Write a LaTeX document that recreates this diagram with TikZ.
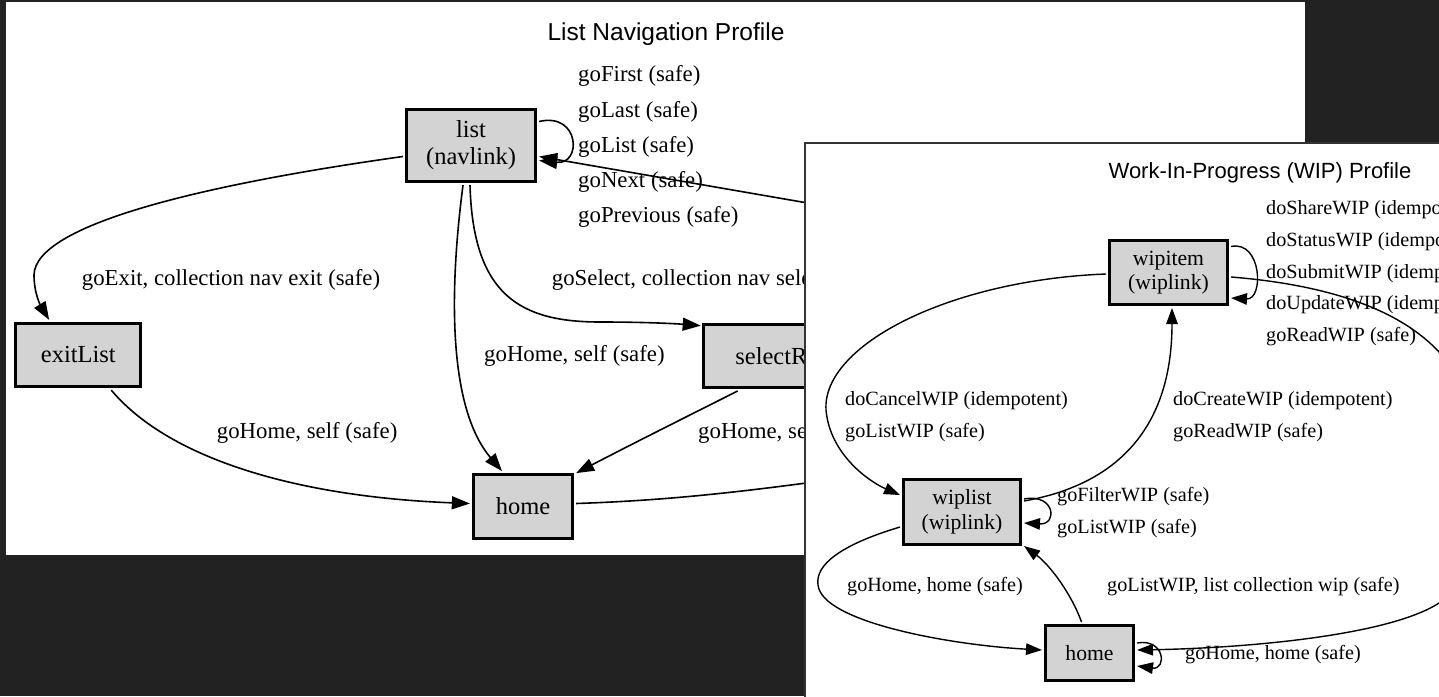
\documentclass[tikz,border=0pt]{standalone}
\usepackage{fontspec}
\setmainfont{Liberation Serif}
\newfontfamily\titlefont{Liberation Sans}
\usetikzlibrary{arrows.meta,calc}
\definecolor{bgdark}{HTML}{222222}
\definecolor{boxgray}{HTML}{D3D3D3}
\tikzset{
  lbox/.style={draw=black, fill=boxgray, line width=3.3pt, inner sep=0pt, font=\fontsize{24.5pt}{27pt}\selectfont, align=center},
  rbox/.style={draw=black, fill=boxgray, line width=3pt, inner sep=0pt, font=\fontsize{21.7pt}{24.5pt}\selectfont, align=center},
  ledge/.style={draw=black, line width=1.6pt, -{Triangle[length=18pt,width=13pt]}},
  redge/.style={draw=black, line width=1.4pt, -{Triangle[length=16pt,width=11.5pt]}},
  llabel/.style={anchor=west, inner sep=0pt, font=\fontsize{22.8pt}{26pt}\selectfont},
  rlabel/.style={anchor=west, inner sep=0pt, font=\fontsize{20.2pt}{23pt}\selectfont},
  ltitle/.style={inner sep=0pt, font=\titlefont\fontsize{24.5pt}{28pt}\selectfont},
  rtitle/.style={inner sep=0pt, font=\titlefont\fontsize{22pt}{26pt}\selectfont},
}
\begin{document}
\begin{tikzpicture}[x=1pt,y=-1pt]
\useasboundingbox (0,0) rectangle (1439,696);
\fill[bgdark] (0,0) rectangle (1439,696);
% ---------------- left panel ----------------
\fill[white] (5.5,1.5) rectangle (1305,555);
\begin{scope}
\clip (5.5,1.5) rectangle (1305,555);
\node[ltitle] (ltitle) at (666,34) {List Navigation Profile};
\node[lbox, minimum width=129pt, minimum height=72pt] (list) at (471,145.5) {list\\(navlink)};
\node[lbox, minimum width=125pt, minimum height=63pt] (exitList) at (78.3,355) {exitList};
\node[lbox, minimum width=150pt, minimum height=63pt, anchor=west, inner xsep=32pt, text width=86pt, align=left] (selectR) at (701.7,355.8) {selectR};
\node[lbox, minimum width=99pt, minimum height=63.5pt] (lhome) at (523,506.5) {home};
\coordinate (h1) at (900,470);
\coordinate (h2) at (900,219);
% self loop on list
\draw[ledge] ($(list.east)+(2,-24)$) .. controls (580,112) and (582,165) .. ($(list.east)+(2,15)$);
% home -> list (around the right)
\draw[ledge] ($(lhome.east)+(2,-3)$) .. controls (680,500) and (760,490) .. (h1)
  .. controls (1000,440) and (1000,240) .. (h2) -- ($(list.east)+(2,11)$);
% list -> selectR
\draw[ledge] ($(list.south)+(-1,2)$) .. controls (473,295) and (520,322) .. (600,322)
  .. controls (650,322) and (680,324) .. ($(selectR.north west)+(-1,3)$);
% list -> home
\draw[ledge] ($(list.south)+(-8,2)$) .. controls (448,300) and (450,410) .. ($(lhome.north)+(-21,-2)$);
% list -> exitList
\draw[ledge] ($(list.west)+(-2,11)$) .. controls (200,185) and (35,225) .. (34,275)
  .. controls (34,295) and (42,308) .. ($(exitList.north west)+(35,-2)$);
% exitList -> home
\draw[ledge] ($(exitList.south)+(33,2)$) .. controls (170,460) and (300,497) .. ($(lhome.west)+(-2,-3)$);
% selectR -> home
\draw[ledge] ($(selectR.south west)+(36,2)$) .. controls (690,415) and (630,445) .. ($(lhome.north east)+(2,0)$);
% labels
\node[llabel] (l1) at (578,76) {goFirst (safe)};
\node[llabel] (l2) at (578,111.5) {goLast (safe)};
\node[llabel] (l3) at (578,146.5) {goList (safe)};
\node[llabel] (l4) at (578,182) {goNext (safe)};
\node[llabel] (l5) at (578,217) {goPrevious (safe)};
\node[llabel] (l6) at (81.7,280) {goExit, collection nav exit (safe)};
\node[llabel] (l7) at (551.7,280) {goSelect, collection nav select (safe)};
\node[llabel] (l8) at (484,356) {goHome, self (safe)};
\node[llabel] (l9) at (216.7,432.5) {goHome, self (safe)};
\node[llabel] (l10) at (698,432.5) {goHome, self};
\end{scope}
% ---------------- right panel ----------------
\fill[white] (805,143) rectangle (1445,700);
\begin{scope}
\clip (805,143) rectangle (1439,696);
\node[rtitle] (rtitle) at (1260,173) {Work-In-Progress (WIP) Profile};
\node[rbox, minimum width=118pt, minimum height=64pt] (wipitem) at (1168.5,272.5) {wipitem\\(wiplink)};
\node[rbox, minimum width=117pt, minimum height=65pt] (wiplist) at (962,512) {wiplist\\(wiplink)};
\node[rbox, minimum width=88pt, minimum height=55pt] (rhome) at (1089.5,653) {home};
\coordinate (r1) at (1439,352);
\coordinate (r2) at (1439,603);
% wipitem self loop
\draw[redge] ($(wipitem.east)+(2,-26)$) .. controls (1262,240) and (1264,300) .. ($(wipitem.east)+(2,25.5)$);
% wipitem -> home (around the right)
\draw[redge] ($(wipitem.east)+(2,4.5)$) .. controls (1330,285) and (1400,310) .. (r1)
  .. controls (1480,400) and (1490,560) .. (r2)
  .. controls (1390,635) and (1250,648) .. ($(rhome.east)+(2,-3)$);
% wipitem -> wiplist
\draw[redge] ($(wipitem.west)+(-2,1.5)$) .. controls (950,280) and (822,345) .. (826,410)
  .. controls (830,455) and (870,482) .. ($(wiplist.west)+(-2,-17)$);
% wiplist -> wipitem
\draw[redge] ($(wiplist.east)+(2,-11)$) .. controls (1115,485) and (1172,430) .. ($(wipitem.south)+(3.5,2)$);
% wiplist self loop
\draw[redge] ($(wiplist.east)+(2,-13)$) .. controls (1055,493) and (1058,525) .. ($(wiplist.east)+(2,11)$);
% wiplist -> home
\draw[redge] ($(wiplist.west)+(-2,15)$) .. controls (840,545) and (815,565) .. (818,585)
  .. controls (822,622) and (950,645) .. ($(rhome.west)+(-2,-3)$);
% home -> wiplist
\draw[redge] ($(rhome.north)+(-8,-2)$) .. controls (1072,595) and (1050,565) .. ($(wiplist.south east)+(2,0)$);
% home self loop
\draw[redge] ($(rhome.east)+(2,-10)$) .. controls (1165,638) and (1167,670) .. ($(rhome.east)+(2,13)$);
% labels
\node[rlabel] (m1) at (1266,210) {doShareWIP (idempotent)};
\node[rlabel] (m2) at (1266,242) {doStatusWIP (idempotent)};
\node[rlabel] (m3) at (1266,273.5) {doSubmitWIP (idempotent)};
\node[rlabel] (m4) at (1266,305) {doUpdateWIP (idempotent)};
\node[rlabel] (m5) at (1266,336.5) {goReadWIP (safe)};
\node[rlabel] (m6) at (845,401) {doCancelWIP (idempotent)};
\node[rlabel] (m7) at (845,432.5) {goListWIP (safe)};
\node[rlabel] (m8) at (1173,401) {doCreateWIP (idempotent)};
\node[rlabel] (m9) at (1173,432.5) {goReadWIP (safe)};
\node[rlabel] (m10) at (1057,496.5) {goFilterWIP (safe)};
\node[rlabel] (m11) at (1057,528.5) {goListWIP (safe)};
\node[rlabel] (m12) at (847,586.5) {goHome, home (safe)};
\node[rlabel] (m13) at (1107,586.5) {goListWIP, list collection wip (safe)};
\node[rlabel] (m14) at (1185,654.5) {goHome, home (safe)};
\end{scope}
\draw[black!80, line width=1.5pt] (805,700) -- (805,143) -- (1445,143);
\end{tikzpicture}
\end{document}
